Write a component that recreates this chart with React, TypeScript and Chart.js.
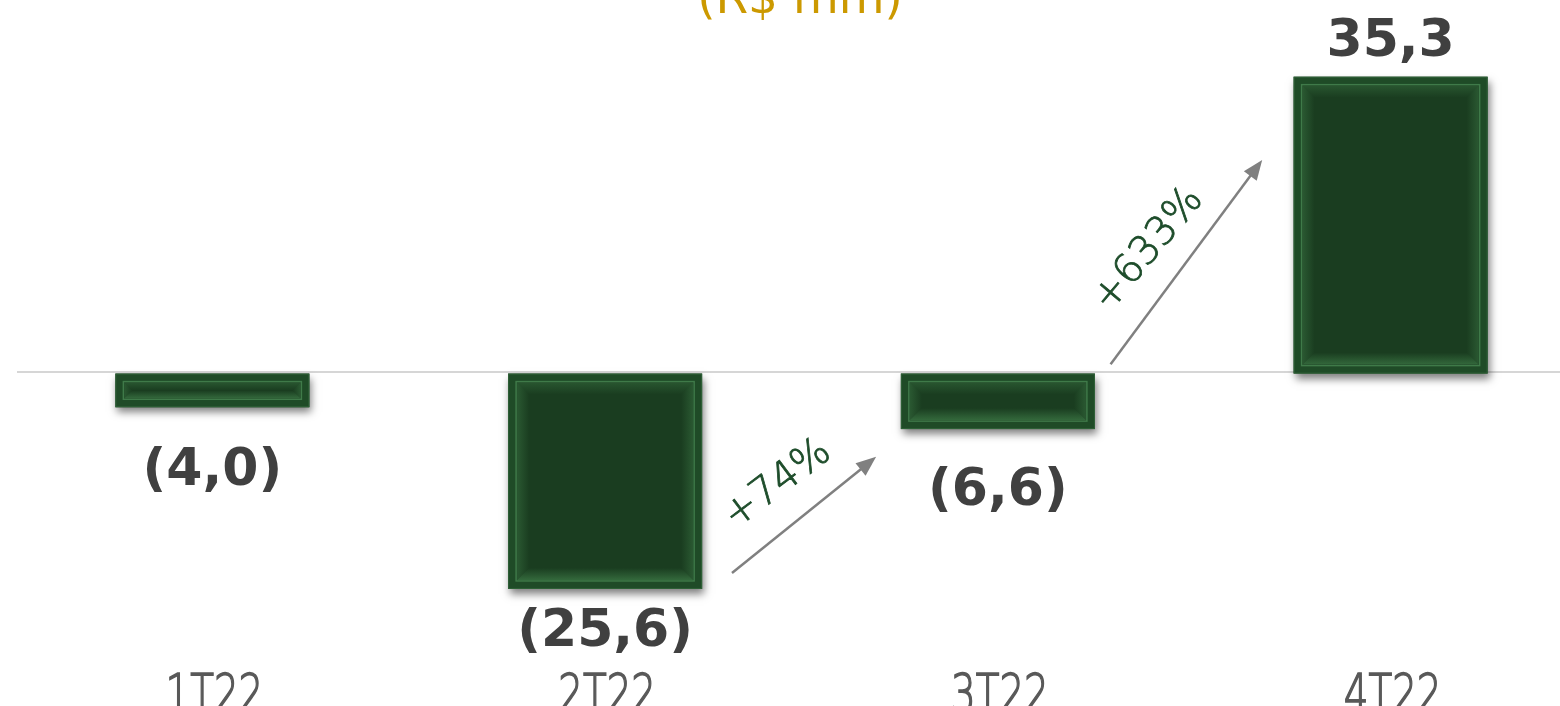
import React, { useEffect, useRef } from "react";
import { Chart, registerables } from "chart.js";

Chart.register(...registerables);

// ---------- data ----------
const categories = ["1T22", "2T22", "3T22", "4T22"];
const values = [-4.0, -25.6, -6.6, 35.3];
const valueLabels = ["(4,0)", "(25,6)", "(6,6)", "35,3"];
const titleText = "(R$ mm)";
const growthLabels = ["+74%", "+633%"];
// annotation anchors in data space: [category index, value]
const arrowStart = [
  [1.323, -23.7],
  [2.287, 1.1],
];
const arrowEnd = [
  [1.69, -9.9],
  [2.673, 25.4],
];
const growthAnchor = [
  [1.44, -13.2],
  [2.384, 14.7],
];
const growthAngleDeg = [-37, -50];

// ---------- styles ----------
const BAR_FILL = "#1a3d20";
const LABEL_GAP = [64, 44, 62, 34];
const GRAY_ARROW = "#808080";
const GROWTH_COLOR = "#1e4d2b";

function bevelSide(ctx: any, pts: number[][], g0: number[], g1: number[], alpha: number) {
  const grad = ctx.createLinearGradient(g0[0], g0[1], g1[0], g1[1]);
  grad.addColorStop(0, `rgba(72,140,82,${alpha})`);
  grad.addColorStop(1, "rgba(72,140,82,0)");
  ctx.fillStyle = grad;
  ctx.beginPath();
  ctx.moveTo(pts[0][0], pts[0][1]);
  for (let i = 1; i < pts.length; i++) ctx.lineTo(pts[i][0], pts[i][1]);
  ctx.closePath();
  ctx.fill();
}

const decorPlugin = {
  id: "decor",
  beforeDatasetsDraw(chart: any) {
    const { ctx, chartArea, scales } = chart;
    const y0 = scales.y.getPixelForValue(0);
    ctx.save();
    ctx.strokeStyle = "#d6d6d6";
    ctx.lineWidth = 2;
    ctx.beginPath();
    ctx.moveTo(chartArea.left + 1, y0 - 1.5);
    ctx.lineTo(chart.width, y0 - 1.5);
    ctx.stroke();
    ctx.restore();
  },
  beforeDatasetDraw(chart: any) {
    const ctx = chart.ctx;
    ctx.save();
    ctx.shadowColor = "rgba(0,0,0,0.5)";
    ctx.shadowBlur = 8;
    ctx.shadowOffsetX = 2;
    ctx.shadowOffsetY = 5;
  },
  afterDatasetDraw(chart: any) {
    chart.ctx.restore();
  },
  afterDatasetsDraw(chart: any) {
    const { ctx, scales, chartArea } = chart;
    const xs = scales.x;
    const ys = scales.y;
    const meta = chart.getDatasetMeta(0);
    meta.data.forEach((bar: any, i: number) => {
      const left = bar.x - bar.width / 2;
      const right = bar.x + bar.width / 2;
      const top = Math.min(bar.y, bar.base);
      const bottom = Math.max(bar.y, bar.base);
      const w = right - left;
      const h = bottom - top;
      ctx.save();
      // outer frame
      ctx.strokeStyle = "#1f4b27";
      ctx.lineWidth = 8;
      ctx.strokeRect(left + 4, top + 4, w - 8, h - 8);
      ctx.strokeStyle = "rgba(80,140,90,0.35)";
      ctx.lineWidth = 1;
      ctx.strokeRect(left + 0.5, top + 0.5, w - 1, h - 1);
      // inner bevel
      const a = 9;
      const d = Math.min(12, (h - 2 * a) / 2, (w - 2 * a) / 2);
      if (d > 1) {
        const L = left + a, R = right - a, T = top + a, B = bottom - a;
        bevelSide(ctx, [[L, B], [R, B], [R - d, B - d], [L + d, B - d]], [0, B], [0, B - d], 0.55);
        bevelSide(ctx, [[L, T], [R, T], [R - d, T + d], [L + d, T + d]], [0, T], [0, T + d], 0.3);
        bevelSide(ctx, [[L, T], [L + d, T + d], [L + d, B - d], [L, B]], [L, 0], [L + d, 0], 0.35);
        bevelSide(ctx, [[R, T], [R - d, T + d], [R - d, B - d], [R, B]], [R, 0], [R - d, 0], 0.35);
      }
      // inner line
      ctx.strokeStyle = "#3f7a49";
      ctx.lineWidth = 1.5;
      ctx.strokeRect(left + 8, top + 8, w - 16, h - 16);
      ctx.restore();

      // value label
      ctx.save();
      ctx.font = "bold 52px 'DejaVu Sans'";
      ctx.fillStyle = "#404040";
      ctx.textAlign = "center";
      ctx.textBaseline = "middle";
      const v = values[i];
      const ly = v >= 0 ? top - LABEL_GAP[i] : bottom + LABEL_GAP[i];
      ctx.fillText(valueLabels[i], bar.x, ly);
      ctx.restore();
    });

    // category labels (narrow, light)
    categories.forEach((c, i) => {
      const px = xs.getPixelForTick(i) + 2;
      ctx.save();
      ctx.translate(px, chartArea.bottom + 44);
      ctx.scale(0.72, 1);
      ctx.font = "200 54px 'DejaVu Sans'";
      ctx.fillStyle = "#595959";
      ctx.strokeStyle = "#595959";
      ctx.lineWidth = 1.6;
      ctx.textAlign = "center";
      ctx.textBaseline = "alphabetic";
      ctx.fillText(c, 0, 0);
      ctx.strokeText(c, 0, 0);
      ctx.restore();
    });

    // arrows
    arrowStart.forEach((s, i) => {
      const e = arrowEnd[i];
      const x0 = xs.getPixelForValue(s[0]);
      const y0 = ys.getPixelForValue(s[1]);
      const x1 = xs.getPixelForValue(e[0]);
      const y1 = ys.getPixelForValue(e[1]);
      const ang = Math.atan2(y1 - y0, x1 - x0);
      const headL = 20;
      const headW = 8;
      ctx.save();
      ctx.strokeStyle = GRAY_ARROW;
      ctx.fillStyle = GRAY_ARROW;
      ctx.lineWidth = 2.5;
      ctx.beginPath();
      ctx.moveTo(x0, y0);
      ctx.lineTo(x1 - Math.cos(ang) * headL * 0.8, y1 - Math.sin(ang) * headL * 0.8);
      ctx.stroke();
      ctx.beginPath();
      ctx.moveTo(x1, y1);
      const bx = x1 - Math.cos(ang) * headL;
      const by = y1 - Math.sin(ang) * headL;
      ctx.lineTo(bx + Math.sin(ang) * headW, by - Math.cos(ang) * headW);
      ctx.lineTo(bx - Math.sin(ang) * headW, by + Math.cos(ang) * headW);
      ctx.closePath();
      ctx.fill();
      ctx.restore();
    });

    // growth labels
    growthLabels.forEach((t, i) => {
      const a = growthAnchor[i];
      const px = xs.getPixelForValue(a[0]);
      const py = ys.getPixelForValue(a[1]);
      ctx.save();
      ctx.translate(px, py);
      ctx.rotate((growthAngleDeg[i] * Math.PI) / 180);
      ctx.font = "200 40px 'DejaVu Sans'";
      ctx.fillStyle = GROWTH_COLOR;
      ctx.strokeStyle = GROWTH_COLOR;
      ctx.lineWidth = 0.8;
      ctx.textAlign = "center";
      ctx.textBaseline = "middle";
      ctx.fillText(t, 0, 0);
      ctx.strokeText(t, 0, 0);
      ctx.restore();
    });

    // title (cropped at top)
    ctx.save();
    ctx.font = "47px 'DejaVu Sans'";
    ctx.fillStyle = "#cc9900";
    ctx.textAlign = "center";
    ctx.textBaseline = "alphabetic";
    ctx.fillText(titleText, 800, 13);
    ctx.restore();
  },
};

export default function App() {
  const ref = useRef<HTMLCanvasElement>(null);
  useEffect(() => {
    if (!ref.current) return;
    const chart = new Chart(ref.current, {
      type: "bar",
      data: {
        labels: categories,
        datasets: [
          {
            data: values,
            backgroundColor: BAR_FILL,
            borderWidth: 0,
            barPercentage: 0.494,
            categoryPercentage: 1,
          },
        ],
      },
      options: {
        animation: false,
        responsive: false,
        maintainAspectRatio: false,
        layout: { padding: { left: 16, right: 3, top: 3.5, bottom: 72 } },
        plugins: {
          legend: { display: false },
          tooltip: { enabled: false },
          title: { display: false },
        },
        scales: {
          x: { display: false, offset: true },
          y: { display: false, min: -35, max: 44 },
        },
      },
      plugins: [decorPlugin],
    });
    return () => chart.destroy();
  }, []);
  return (
    <div
      style={{
        position: "fixed",
        left: 0,
        top: 0,
        width: 1560,
        height: 706,
        overflow: "hidden",
        background: "#ffffff",
      }}
    >
      <canvas ref={ref} width={1590} height={740} style={{ display: "block", width: 1590, height: 740 }} />
    </div>
  );
}
